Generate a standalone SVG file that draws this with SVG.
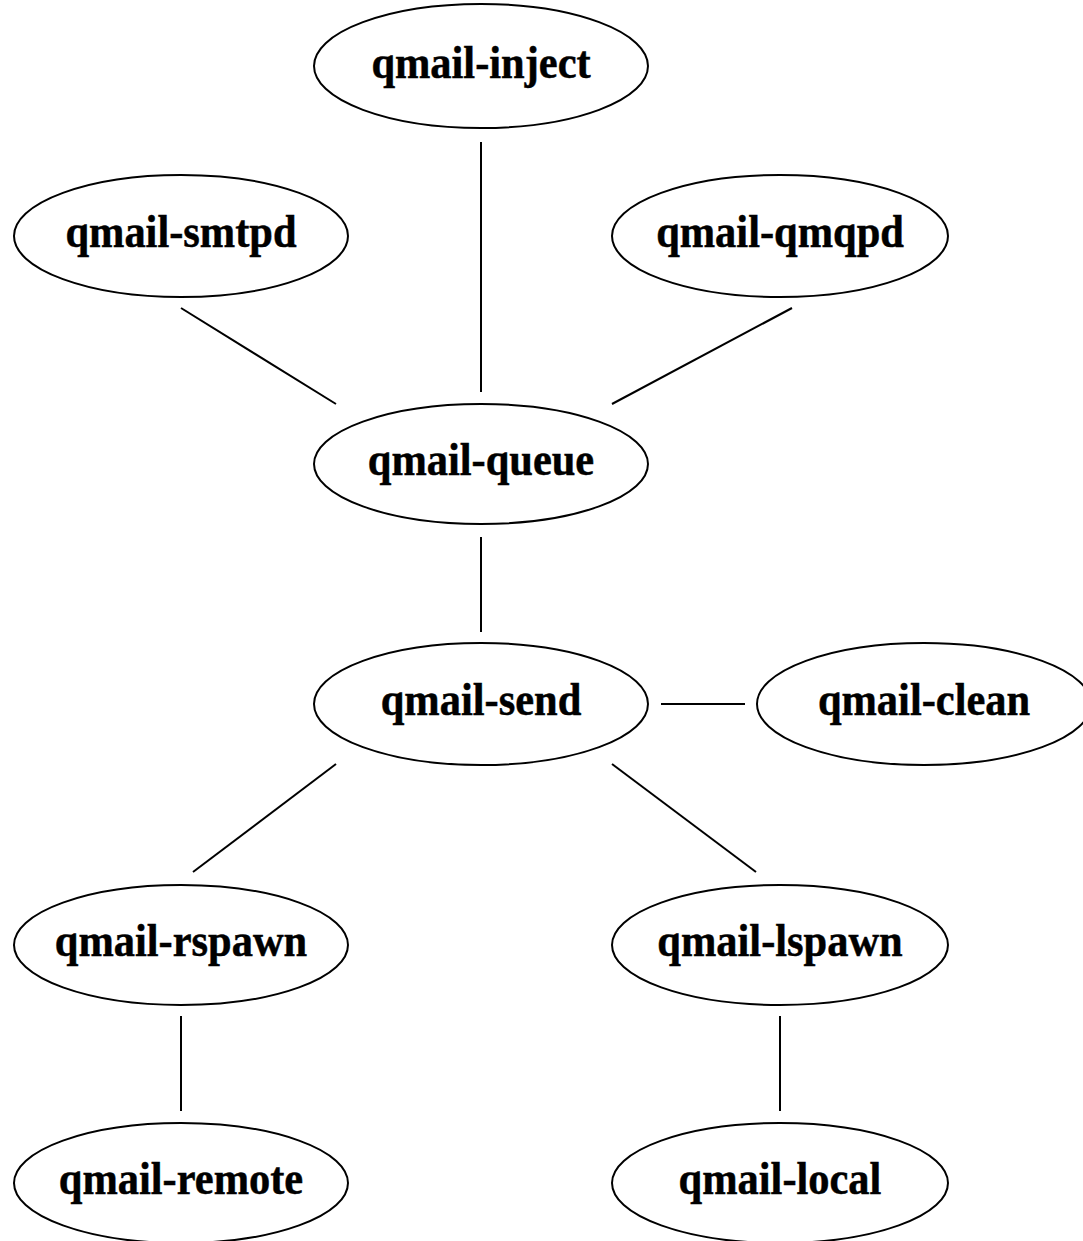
<svg xmlns="http://www.w3.org/2000/svg" width="1083" height="1241" viewBox="0 0 1083 1241">
<style>
.n ellipse{fill:none;stroke:#000;stroke-width:2}
.n text{font-family:"Liberation Serif","Times New Roman",serif;font-weight:bold;font-size:46px;text-anchor:middle;fill:#000;stroke:#000;stroke-width:0.5}
#edges line{stroke:#000;stroke-width:2}
</style>
<rect width="1083" height="1241" fill="#fff"/>
<g id="edges">
<line x1="481" y1="142" x2="481" y2="392"/>
<line x1="181" y1="308" x2="336" y2="404"/>
<line x1="792" y1="308" x2="612" y2="404"/>
<line x1="481" y1="537" x2="481" y2="632"/>
<line x1="661" y1="704" x2="745" y2="704"/>
<line x1="336" y1="764" x2="193" y2="872"/>
<line x1="612" y1="764" x2="756" y2="872"/>
<line x1="181" y1="1016" x2="181" y2="1111"/>
<line x1="780" y1="1016" x2="780" y2="1111"/>
</g>
<g id="inject" class="n"><ellipse cx="481" cy="66" rx="167" ry="62"/><text transform="translate(481,78) scale(0.923,1)">qmail-inject</text></g>
<g id="smtpd" class="n"><ellipse cx="181" cy="236" rx="167" ry="61"/><text transform="translate(181,247) scale(0.923,1)">qmail-smtpd</text></g>
<g id="qmqpd" class="n"><ellipse cx="780" cy="236" rx="168" ry="61"/><text transform="translate(780,247) scale(0.923,1)">qmail-qmqpd</text></g>
<g id="queue" class="n"><ellipse cx="481" cy="464" rx="167" ry="60"/><text transform="translate(481,475) scale(0.923,1)">qmail-queue</text></g>
<g id="send" class="n"><ellipse cx="481" cy="704" rx="167" ry="61"/><text transform="translate(481,715) scale(0.923,1)">qmail-send</text></g>
<g id="clean" class="n"><ellipse cx="924" cy="704" rx="167" ry="61"/><text transform="translate(924,715) scale(0.923,1)">qmail-clean</text></g>
<g id="rspawn" class="n"><ellipse cx="181" cy="945" rx="167" ry="60"/><text transform="translate(181,956) scale(0.923,1)">qmail-rspawn</text></g>
<g id="lspawn" class="n"><ellipse cx="780" cy="945" rx="168" ry="60"/><text transform="translate(780,956) scale(0.923,1)">qmail-lspawn</text></g>
<g id="remote" class="n"><ellipse cx="181" cy="1183" rx="167" ry="60"/><text transform="translate(181,1194) scale(0.923,1)">qmail-remote</text></g>
<g id="local" class="n"><ellipse cx="780" cy="1183" rx="168" ry="60"/><text transform="translate(780,1194) scale(0.923,1)">qmail-local</text></g>
</svg>
